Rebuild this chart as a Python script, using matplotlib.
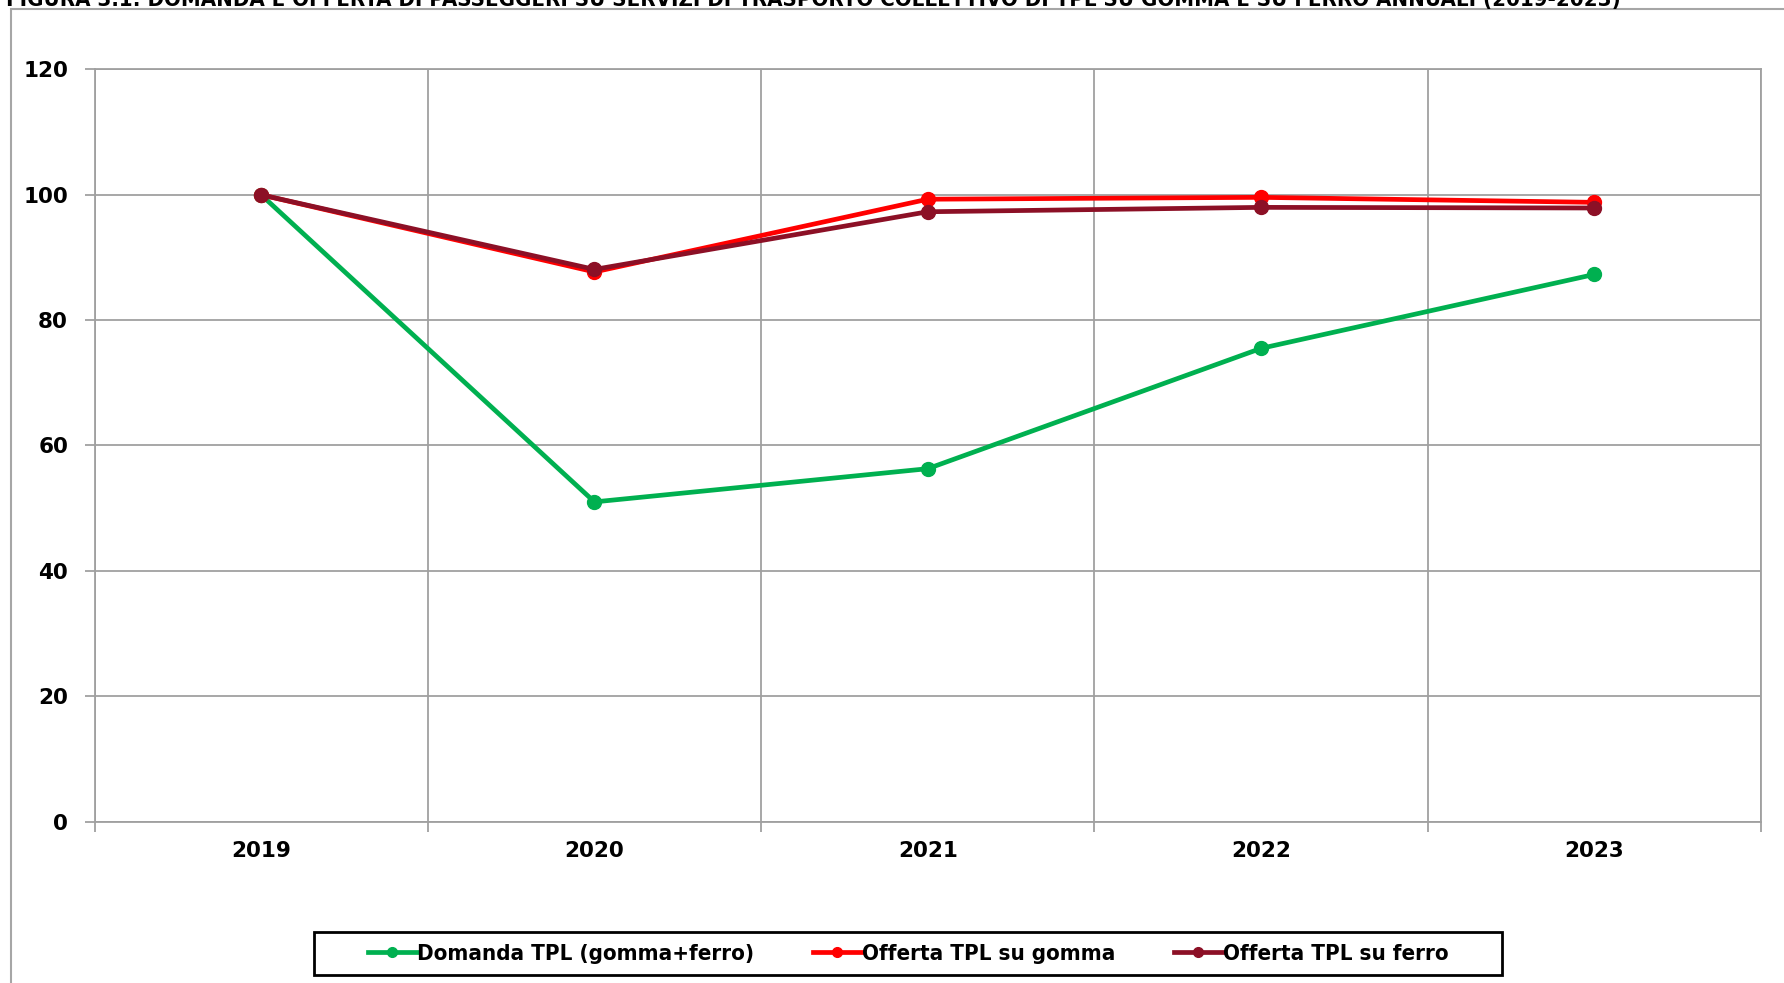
import matplotlib
matplotlib.use("Agg")
import matplotlib.pyplot as plt
from matplotlib.patches import Rectangle
from matplotlib import font_manager

# index 2019 = 100
anni = ["2019", "2020", "2021", "2022", "2023"]
domanda_tpl = [100, 51.0, 56.3, 75.5, 87.3]
offerta_gomma = [100, 87.7, 99.3, 99.6, 98.8]
offerta_ferro = [100, 88.1, 97.3, 98.0, 97.9]

serie = [
    ("Domanda TPL (gomma+ferro)", domanda_tpl, "#00B050"),
    ("Offerta TPL su gomma", offerta_gomma, "#FF0000"),
    ("Offerta TPL su ferro", offerta_ferro, "#8C1026"),
]

# narrow bold face for title and legend, if there is one
nomi = {f.name for f in font_manager.fontManager.ttflist}
stretti = [n for n in ("Liberation Sans Narrow", "DejaVu Sans Condensed") if n in nomi]
cond = {"family": stretti + ["DejaVu Sans"], "stretch": "condensed", "weight": "bold"}

W, H = 1784, 983
fig = plt.figure(figsize=(W / 100, H / 100), dpi=100)
fig.patch.set_facecolor("white")

# chart area frame (runs off the right and bottom edges)
fig.patches.append(Rectangle((11 / W, -0.1), 1.2, 1 - 9 / H + 0.1,
                             transform=fig.transFigure, fill=False,
                             edgecolor="#A6A6A6", linewidth=1.5))

fig.text(6 / W, 1 - 6 / H,
         "FIGURA 3.1: DOMANDA E OFFERTA DI PASSEGGERI SU SERVIZI DI TRASPORTO "
         "COLLETTIVO DI TPL SU GOMMA E SU FERRO ANNUALI (2019-2023)",
         fontsize=15.9, va="baseline", ha="left", **cond)

left, right, top, bottom = 94.5, 1761, 69.5, 821.5
ax = fig.add_axes([left / W, 1 - bottom / H, (right - left) / W, (bottom - top) / H])

x = list(range(len(anni)))
for nome, valori, colore in serie:
    ax.plot(x, valori, color=colore, linewidth=3.4, marker="o",
            markersize=10, label=nome, zorder=3)

ax.set_xlim(-0.5, len(anni) - 0.5)
ax.set_ylim(0, 120)
ax.set_yticks(range(0, 121, 20))
ax.set_xticks([i - 0.5 for i in range(len(anni) + 1)])
ax.set_xticklabels([])
ax.set_xticks(x, minor=True)
ax.set_xticklabels(anni, minor=True)
ax.tick_params(axis="x", which="minor", length=0, pad=14)
ax.tick_params(axis="x", which="major", length=7, color="#A0A0A0", width=1.3)
ax.tick_params(axis="y", length=7, color="#A0A0A0", width=1.3, pad=12)
for lab in ax.get_yticklabels() + ax.get_xticklabels(minor=True):
    lab.set_fontweight("heavy")
    lab.set_fontsize(15.5)

ax.grid(True, axis="y", color="#A0A0A0", linewidth=1.3)
ax.grid(True, axis="x", which="major", color="#A0A0A0", linewidth=1.3)
ax.set_axisbelow(True)
for sp in ax.spines.values():
    sp.set_color("#A0A0A0")
    sp.set_linewidth(1.3)

# legend box
lx0, lx1, ly0, ly1 = 314, 1502, 932, 975
fig.patches.append(Rectangle((lx0 / W, 1 - ly1 / H), (lx1 - lx0) / W, (ly1 - ly0) / H,
                             transform=fig.transFigure, fill=False,
                             edgecolor="black", linewidth=2))
leg = fig.legend(loc="center", bbox_to_anchor=((lx0 + lx1) / 2 / W, 1 - (ly0 + ly1) / 2 / H),
                 ncol=3, frameon=False, handlelength=2.2, handletextpad=0.0,
                 columnspacing=2.65, prop=dict(cond, size=16))
for h in leg.legend_handles:
    h.set_markersize(7)

fig.savefig("out.png", dpi=100, facecolor="white")
